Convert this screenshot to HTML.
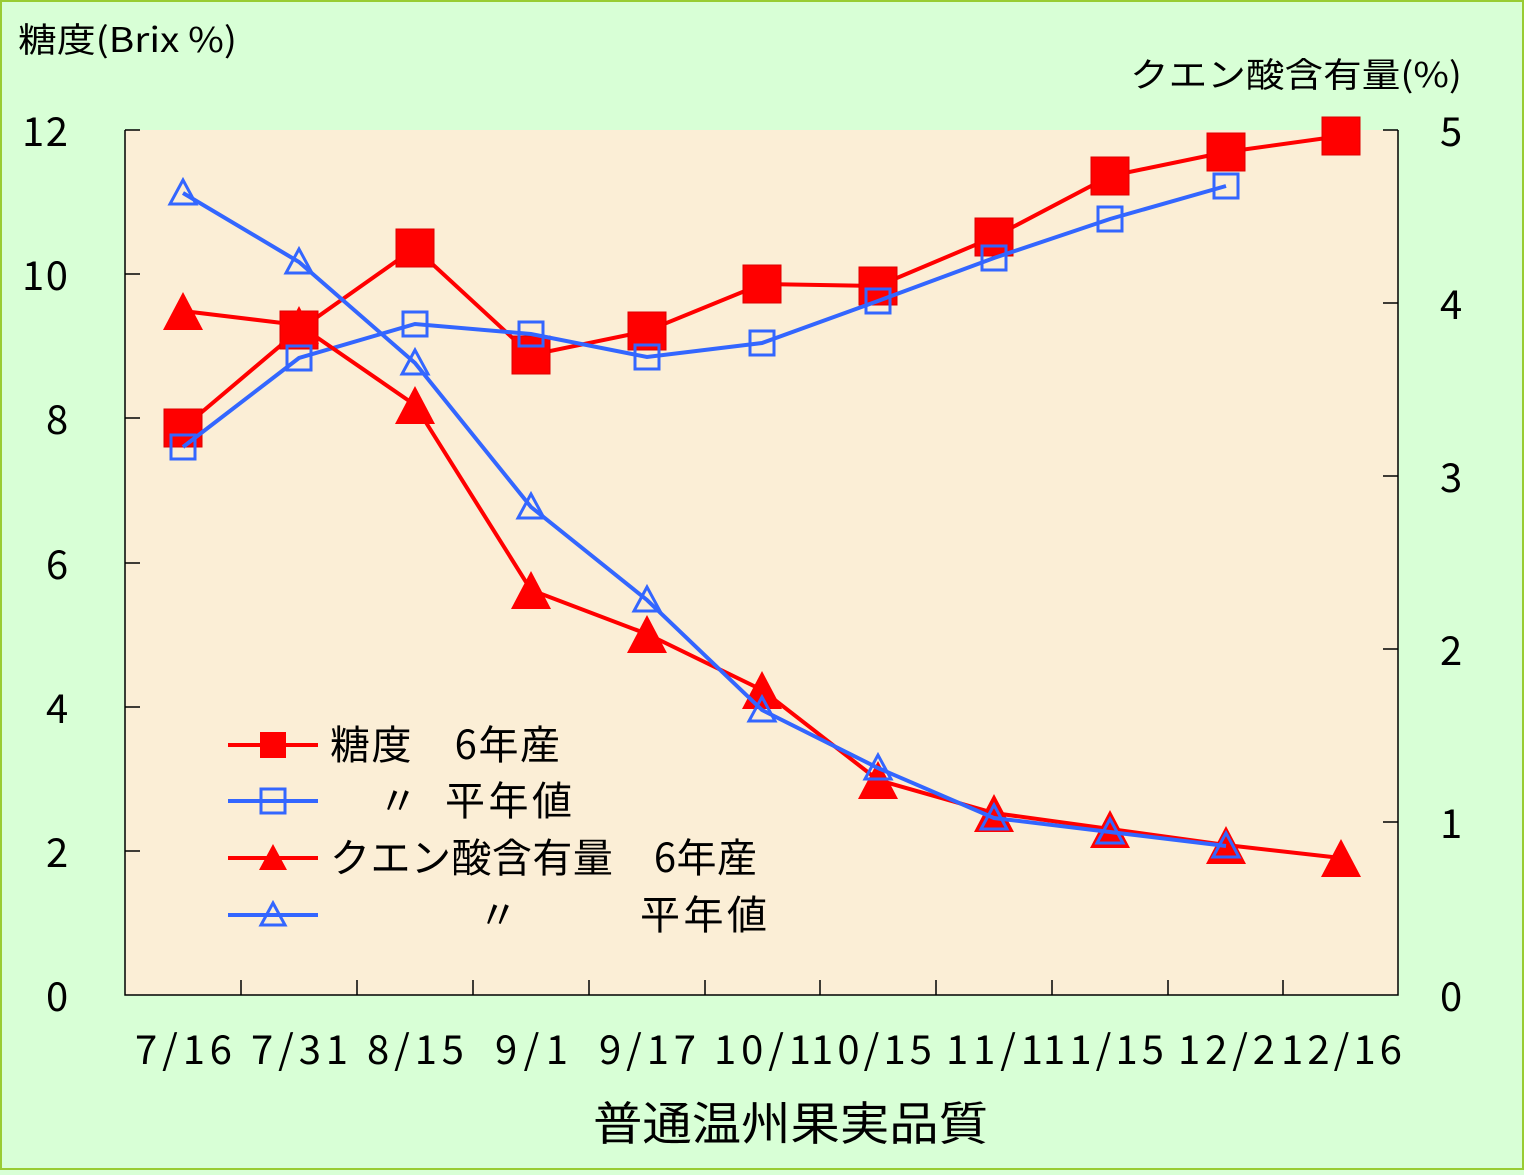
<!DOCTYPE html><html><head><meta charset="utf-8"><style>
html,body{margin:0;padding:0;}
body{width:1524px;height:1170px;overflow:hidden;background:#D8FFD6;}
svg text{font-family:"Noto Sans CJK JP","Liberation Sans",sans-serif;fill:#000;}
</style></head><body>
<svg width="1524" height="1170" xmlns="http://www.w3.org/2000/svg">
<rect x="1" y="1" width="1522" height="1168" fill="#D8FFD6" stroke="#99CC33" stroke-width="2"/>
<rect x="125" y="130" width="1273" height="865" fill="#FBEED6"/>
<g stroke="#000" stroke-width="1.5" fill="none">
<path d="M125,130V995H1398V130"/>
<path d="M125,130h15M125,274h15M125,418h15M125,563h15M125,707h15M125,851h15"/>
<path d="M1398,130h-15M1398,303h-15M1398,476h-15M1398,649h-15M1398,822h-15"/>
<path d="M241,995v-15M357,995v-15M473,995v-15M589,995v-15M705,995v-15M820,995v-15M936,995v-15M1052,995v-15M1168,995v-15M1283,995v-15"/>
</g>
<g font-size="40" lengthAdjust="spacingAndGlyphs">
<text x="22" y="146" textLength="46">12</text><text x="22" y="290" textLength="46">10</text><text x="46" y="434" textLength="22">8</text><text x="46" y="579" textLength="22">6</text><text x="46" y="723" textLength="22">4</text><text x="46" y="867" textLength="22">2</text><text x="46" y="1011" textLength="22">0</text>
<text x="1440" y="146" textLength="22">5</text><text x="1440" y="319" textLength="22">4</text><text x="1440" y="492" textLength="22">3</text><text x="1440" y="665" textLength="22">2</text><text x="1440" y="838" textLength="22">1</text><text x="1440" y="1011" textLength="22">0</text>
</g>
<text x="18" y="52" font-size="34" textLength="219" lengthAdjust="spacingAndGlyphs">糖度(Brix %)</text>
<text x="1130" y="87" font-size="34" textLength="332" lengthAdjust="spacingAndGlyphs">クエン酸含有量(%)</text>
<g font-size="40" lengthAdjust="spacingAndGlyphs">
<text x="135" y="1064" textLength="97">7/16</text><text x="251" y="1064" textLength="97">7/31</text><text x="367" y="1064" textLength="97">8/15</text><text x="495" y="1064" textLength="73">9/1</text><text x="599" y="1064" textLength="97">9/17</text><text x="714" y="1064" textLength="97">10/1</text><text x="811" y="1064" textLength="121">10/15</text><text x="946" y="1064" textLength="97">11/1</text><text x="1043" y="1064" textLength="121">11/15</text><text x="1178" y="1064" textLength="97">12/2</text><text x="1281" y="1064" textLength="121">12/16</text>
</g>
<text x="593" y="1140" font-size="46" textLength="395" lengthAdjust="spacingAndGlyphs">普通温州果実品質</text>

<polyline fill="none" stroke="#FF0000" stroke-width="4" points="183,428 299,330 415,248 531,355 647,331 762,284 878,286 994,237 1110,176 1226,152 1341,136"/>
<g fill="#FF0000" stroke="#DD0000" stroke-width="1">
<rect x="164" y="409" width="38" height="38"/><rect x="280" y="311" width="38" height="38"/><rect x="396" y="229" width="38" height="38"/><rect x="512" y="336" width="38" height="38"/><rect x="628" y="312" width="38" height="38"/><rect x="743" y="265" width="38" height="38"/><rect x="859" y="267" width="38" height="38"/><rect x="975" y="218" width="38" height="38"/><rect x="1091" y="157" width="38" height="38"/><rect x="1207" y="133" width="38" height="38"/><rect x="1322" y="117" width="38" height="38"/>
</g>
<polyline fill="none" stroke="#3366FF" stroke-width="4" points="183,447 299,358 415,324 531,334 647,357 762,343 878,301 994,258 1110,219 1226,186"/>
<g fill="none" stroke="#3366FF" stroke-width="3">
<rect x="171" y="435" width="24" height="24"/><rect x="287" y="346" width="24" height="24"/><rect x="403" y="312" width="24" height="24"/><rect x="519" y="322" width="24" height="24"/><rect x="635" y="345" width="24" height="24"/><rect x="750" y="331" width="24" height="24"/><rect x="866" y="289" width="24" height="24"/><rect x="982" y="246" width="24" height="24"/><rect x="1098" y="207" width="24" height="24"/><rect x="1214" y="174" width="24" height="24"/>
</g>
<polyline fill="none" stroke="#FF0000" stroke-width="4" points="183,311 299,325 415,405 531,590 647,634 762,690 878,780 994,813 1110,829 1226,845 1341,858"/>
<g fill="#FF0000">
<path d="M183,292l-20,38h40z"/><path d="M299,306l-20,38h40z"/><path d="M415,386l-20,38h40z"/><path d="M531,571l-20,38h40z"/><path d="M647,615l-20,38h40z"/><path d="M762,671l-20,38h40z"/><path d="M878,761l-20,38h40z"/><path d="M994,794l-20,38h40z"/><path d="M1110,810l-20,38h40z"/><path d="M1226,826l-20,38h40z"/><path d="M1341,839l-20,38h40z"/>
</g>
<polyline fill="none" stroke="#3366FF" stroke-width="4" points="183,193 299,262 415,363 531,507 647,600 762,710 878,768 994,818 1110,832 1226,846"/>
<g fill="none" stroke="#3366FF" stroke-width="3">
<path d="M183,180l-13,24h26z"/><path d="M299,249l-13,24h26z"/><path d="M415,350l-13,24h26z"/><path d="M531,494l-13,24h26z"/><path d="M647,587l-13,24h26z"/><path d="M762,697l-13,24h26z"/><path d="M878,755l-13,24h26z"/><path d="M994,805l-13,24h26z"/><path d="M1110,819l-13,24h26z"/><path d="M1226,833l-13,24h26z"/>
</g>
<g stroke-width="4" fill="none">
<line x1="228" y1="745" x2="318" y2="745" stroke="#FF0000"/>
<line x1="228" y1="801" x2="318" y2="801" stroke="#3366FF"/>
<line x1="228" y1="858" x2="318" y2="858" stroke="#FF0000"/>
<line x1="228" y1="915" x2="318" y2="915" stroke="#3366FF"/>
</g>
<rect x="260" y="732" width="26" height="26" fill="#FF0000"/>
<rect x="261" y="789" width="24" height="24" fill="none" stroke="#3366FF" stroke-width="3"/>
<path d="M273,844l-14,26h28z" fill="#FF0000"/>
<path d="M273,903l-12,22h24z" fill="none" stroke="#3366FF" stroke-width="3"/>
<g font-size="40" lengthAdjust="spacingAndGlyphs">
<text x="330" y="759" textLength="230">糖度　6年産</text>
<text x="378" y="815" textLength="26">〃</text><text x="445" y="815" textLength="127">平年値</text>
<text x="330" y="872" textLength="427">クエン酸含有量　6年産</text>
<text x="478" y="929" textLength="26">〃</text><text x="640" y="929" textLength="127">平年値</text>
</g>
</svg>
</body></html>
